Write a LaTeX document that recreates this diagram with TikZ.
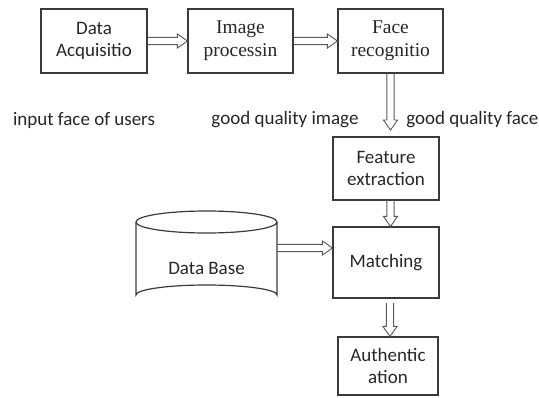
\documentclass[tikz,border=0pt]{standalone}
\usepackage{fontspec}
\setmainfont{Carlito}
\newfontfamily\serifface{Liberation Serif}
\usetikzlibrary{calc}
\definecolor{boxline}{HTML}{3A3A3A}
\definecolor{arrline}{HTML}{5A5A5A}
\tikzset{
  blk/.style={draw=boxline, line width=0.9pt, align=center, inner sep=0pt,
    font=\fontsize{14.25}{17}\selectfont, text=black!85},
  serifblk/.style={blk, font=\serifface\fontsize{14.6}{17}\selectfont},
  lbl/.style={font=\fontsize{14.25}{17}\selectfont, text=black!85, inner sep=0pt},
  harr/.style={draw=arrline, line width=0.7pt, line join=miter}
}
\newcommand\hArrow[2]{\draw[harr] let \p1=(#1),\p2=(#2) in
  (\x1,\y1+2.7pt) -- (\x2-7.5pt,\y1+2.7pt) -- (\x2-7.5pt,\y1+5.3pt) -- (\x2,\y1)
  -- (\x2-7.5pt,\y1-5.3pt) -- (\x2-7.5pt,\y1-2.7pt) -- (\x1,\y1-2.7pt);}
\newcommand\vArrow[2]{\draw[harr] let \p1=(#1),\p2=(#2) in
  (\x1-2.7pt,\y1) -- (\x1-2.7pt,\y2+7.5pt) -- (\x1-5.3pt,\y2+7.5pt) -- (\x1,\y2)
  -- (\x1+5.3pt,\y2+7.5pt) -- (\x1+2.7pt,\y2+7.5pt) -- (\x1+2.7pt,\y1);}
\begin{document}
\begin{tikzpicture}[x=0.75pt,y=-0.75pt]
\useasboundingbox (0,0) rectangle (539,397);
% top row
\node[blk, minimum width=106*0.75pt, minimum height=64*0.75pt] (acq) at (94,41) {Data\\Acquisitio};
\node[serifblk, minimum width=105*0.75pt, minimum height=64*0.75pt] (img) at (240.5,41) {Image\\processin};
\node[serifblk, minimum width=105*0.75pt, minimum height=64*0.75pt] (rec) at (390.5,41) {Face\\recognitio};
% labels
\node[lbl] (l1) at (84,120) {input face of users};
\node[lbl] (l2) at (285,120) {good quality image};
\node[lbl, anchor=west] (l3) at (406,120) {good quality face};
% right column
\node[blk, minimum width=106*0.75pt, minimum height=63*0.75pt] (feat) at (386,168.5) {Feature\\extraction};
\node[blk, minimum width=106*0.75pt, minimum height=71*0.75pt] (match) at (386,262.5) {Matching};
\node[blk, minimum width=100*0.75pt, minimum height=58*0.75pt] (auth) at (388,366) {Authentic\\ation};
% database cylinder
\draw[boxline, line width=0.9pt] (136,222) -- (136,295) arc[start angle=180, end angle=360, x radius=70.5, y radius=10] -- (277,222);
\draw[boxline, line width=0.9pt] (206.5,222) ellipse[x radius=70.5, y radius=11];
\node[lbl] (db) at (206.5,268) {Data Base};
\coordinate (dbr) at (277,248);
% arrow helper coordinates
\coordinate (a1s) at (acq.east);
\coordinate (a1e) at (img.west);
\coordinate (a2s) at (img.east);
\coordinate (a2e) at (rec.west);
\coordinate (v1s) at (rec.south);
\coordinate (v1e) at (390.5,130);
\coordinate (v2s) at (390.5,200);
\coordinate (v2e) at (feat.south |- match.north);
\coordinate (v3s) at (390,303);
\coordinate (v3e) at (auth.north);
\coordinate (dbe) at (match.west |- dbr);
\hArrow{a1s}{a1e}
\hArrow{a2s}{a2e}
\vArrow{v1s}{v1e}
\vArrow{v2s}{v2e}
\vArrow{v3s}{v3e}
\hArrow{dbr}{dbe}
\end{tikzpicture}
\end{document}
